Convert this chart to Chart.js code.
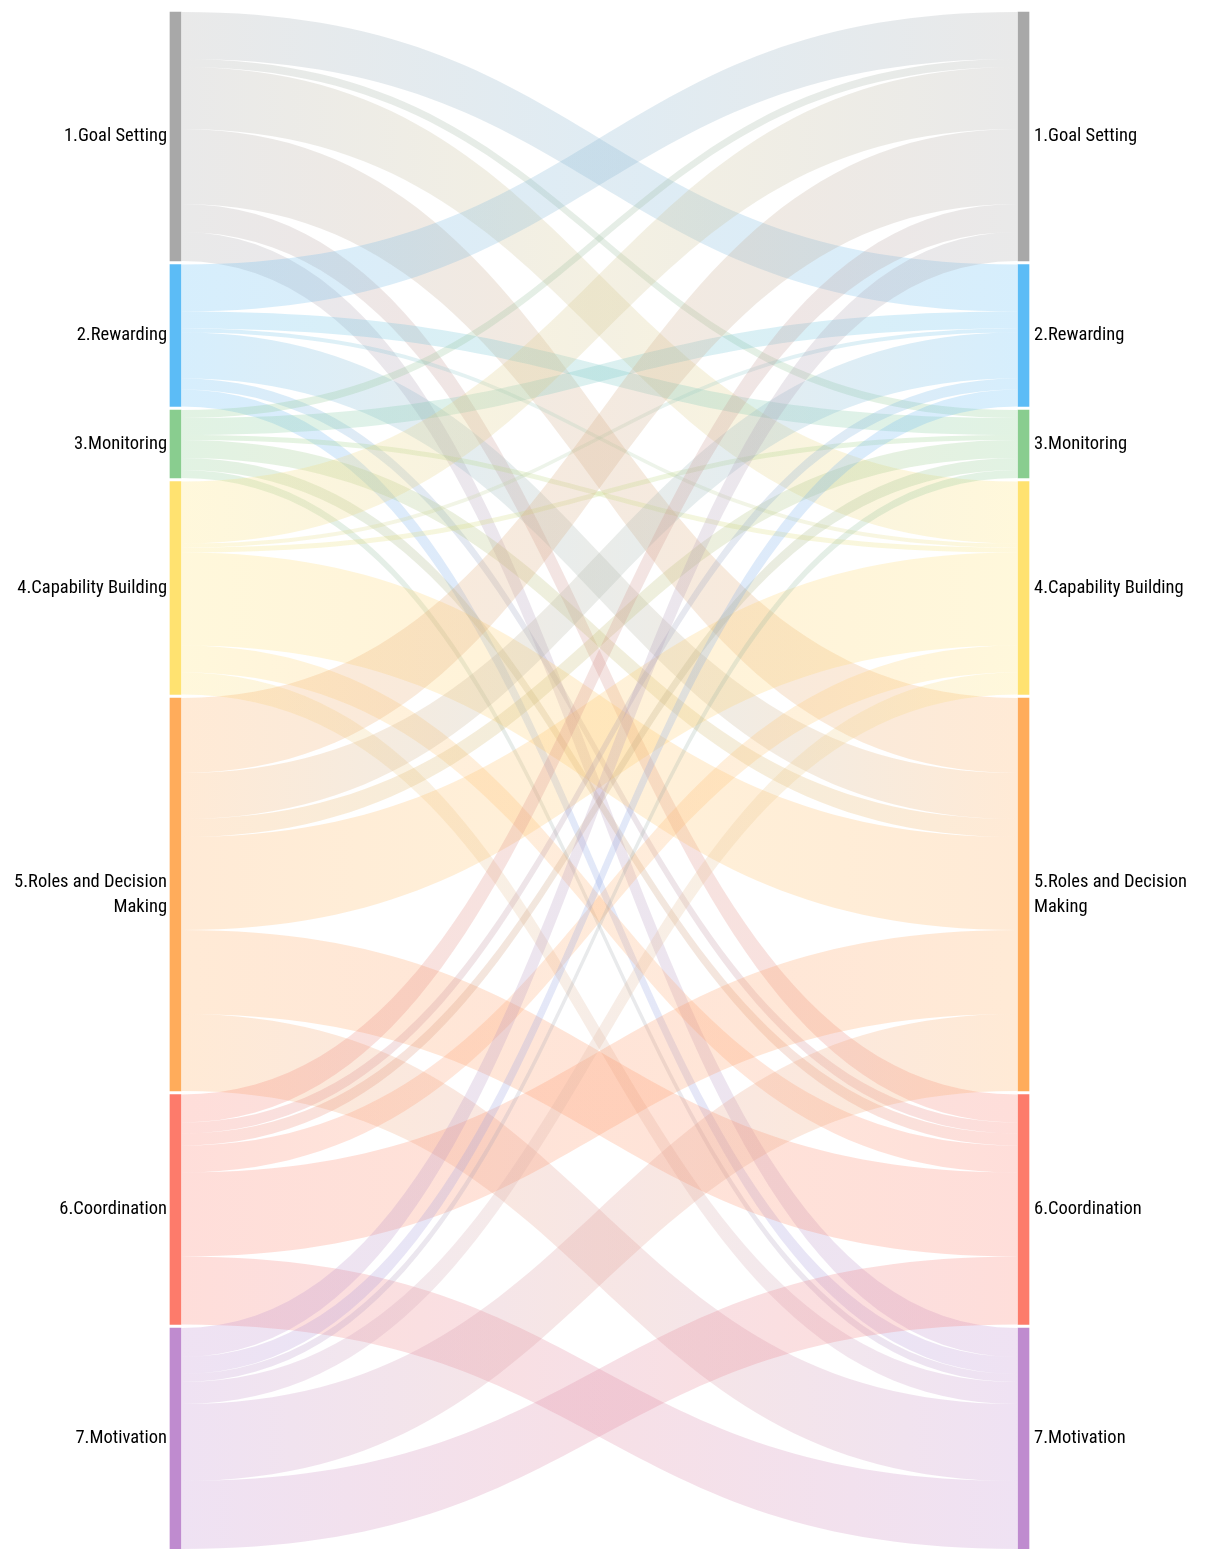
<!DOCTYPE html>
<html>
<head>
<meta charset="utf-8">
<script src="https://cdn.jsdelivr.net/npm/chart.js@4/dist/chart.umd.min.js"></script>
<style>
  html, body { margin: 0; padding: 0; background: #fff; }
  #wrap { width: 1205px; height: 1549px; }
</style>
</head>
<body>
<div id="wrap"><canvas id="sankey_chart"></canvas></div>
<script>
var labels = ['1.Goal Setting', '2.Rewarding', '3.Monitoring', '4.Capability Building',
  '5.Roles and Decision Making', '6.Coordination', '7.Motivation'];

// links from each left node to every right node (same order as labels)
var goalSetting        = [0, 47, 8, 62, 75, 28, 29];
var rewarding          = [47, 0, 17, 4, 46, 11, 17];
var monitoring         = [8, 17, 0, 5, 18, 12, 8];
var capabilityBuilding = [62, 4, 5, 0, 93, 27, 22];
var rolesDecision      = [75, 46, 18, 93, 0, 84, 77];
var coordination       = [28, 11, 12, 27, 84, 0, 68];
var motivation         = [29, 17, 8, 22, 77, 68, 0];

var links = [goalSetting, rewarding, monitoring, capabilityBuilding, rolesDecision, coordination, motivation];

var colours = ['#a8a8a8', '#5cbcf6', '#89cd8f', '#ffe270', '#ffac5b', '#fd7b6b', '#bf8bcf'];
var gap = 3.5;
var n = labels.length;

// node extents on both sides
var outTotals = links.map(function (row) { return row.reduce(function (a, b) { return a + b; }, 0); });
var inTotals = labels.map(function (_, j) { return links.reduce(function (a, row) { return a + row[j]; }, 0); });

function stack(totals) {
  var res = [], pos = 0;
  for (var i = 0; i < totals.length; i++) {
    res.push([pos, pos + totals[i]]);
    pos += totals[i] + gap;
  }
  return res;
}
var leftNodes = stack(outTotals);
var rightNodes = stack(inTotals);
var yMax = Math.max(leftNodes[n - 1][1], rightNodes[n - 1][1]);

var nodeData = [];
for (var i = 0; i < n; i++) nodeData.push({x: 0, y: leftNodes[i]});
for (i = 0; i < n; i++) nodeData.push({x: 1, y: rightNodes[i]});

function alpha(hex, a) {
  var r = parseInt(hex.substr(1, 2), 16), g = parseInt(hex.substr(3, 2), 16), b = parseInt(hex.substr(5, 2), 16);
  return 'rgba(' + r + ',' + g + ',' + b + ',' + a + ')';
}

var sankeyLinks = {
  id: 'sankeyLinks',
  beforeDatasetsDraw: function (chart) {
    var ctx = chart.ctx;
    var ys = chart.scales.y;
    var bars = chart.getDatasetMeta(0).data;
    var x0 = bars[0].x + bars[0].width / 2 + 1;
    var x1 = bars[n].x - bars[n].width / 2 - 1;
    var xm = (x0 + x1) / 2;
    var outPos = leftNodes.map(function (r) { return r[0]; });
    // incoming offsets at each right node, ordered by source
    var inStart = [];
    for (var j = 0; j < n; j++) {
      var p = rightNodes[j][0];
      inStart.push([]);
      for (var i = 0; i < n; i++) { inStart[j].push(p); p += links[i][j]; }
    }
    ctx.save();
    for (i = 0; i < n; i++) {
      for (j = 0; j < n; j++) {
        var v = links[i][j];
        if (!v) continue;
        var a0 = ys.getPixelForValue(outPos[i]), a1 = ys.getPixelForValue(outPos[i] + v);
        var b0 = ys.getPixelForValue(inStart[j][i]), b1 = ys.getPixelForValue(inStart[j][i] + v);
        outPos[i] += v;
        var grad = ctx.createLinearGradient(x0, 0, x1, 0);
        grad.addColorStop(0, alpha(colours[i], 0.25));
        grad.addColorStop(1, alpha(colours[j], 0.25));
        ctx.fillStyle = grad;
        ctx.beginPath();
        ctx.moveTo(x0, a0);
        ctx.bezierCurveTo(xm, a0, xm, b0, x1, b0);
        ctx.lineTo(x1, b1);
        ctx.bezierCurveTo(xm, b1, xm, a1, x0, a1);
        ctx.closePath();
        ctx.fill();
      }
    }
    ctx.restore();
  },
  afterDatasetsDraw: function (chart) {
    var ctx = chart.ctx;
    var bars = chart.getDatasetMeta(0).data;
    ctx.save();
    ctx.font = '18.5px "Liberation Sans Narrow", "Roboto Condensed", "Liberation Sans", sans-serif';
    ctx.fillStyle = '#000';
    ctx.textBaseline = 'middle';
    for (var k = 0; k < bars.length; k++) {
      var b = bars[k];
      var left = k < n;
      var text = labels[k % n];
      // wrap long labels onto two lines
      var lines = [text];
      if (ctx.measureText(text).width > 162) {
        var words = text.split(' '), cur = '';
        lines = [];
        words.forEach(function (w) {
          var t = cur ? cur + ' ' + w : w;
          if (ctx.measureText(t).width > 162 && cur) { lines.push(cur); cur = w; } else cur = t;
        });
        lines.push(cur);
      }
      var cy = (b.y + b.base) / 2;
      ctx.textAlign = left ? 'right' : 'left';
      var tx = left ? b.x - b.width / 2 - 3 : b.x + b.width / 2 + 5;
      for (var l = 0; l < lines.length; l++) {
        ctx.fillText(lines[l], tx, cy + (l - (lines.length - 1) / 2) * 25);
      }
    }
    ctx.restore();
  }
};

var myChart = new Chart(document.getElementById('sankey_chart').getContext('2d'), {
  type: 'bar',
  data: {
    datasets: [{
      data: nodeData,
      backgroundColor: colours.concat(colours),
      barThickness: 11,
      borderWidth: 0,
      clip: false
    }]
  },
  options: {
    responsive: true,
    maintainAspectRatio: false,
    animation: false,
    events: [],
    layout: { padding: { left: 175.5, right: 181.5, top: 12, bottom: 0 } },
    scales: {
      x: { type: 'linear', min: 0, max: 1, offset: false, display: false },
      y: { type: 'linear', min: 0, max: yMax, reverse: true, display: false }
    },
    plugins: { legend: { display: false }, tooltip: { enabled: false } }
  },
  plugins: [sankeyLinks]
});
</script>
</body>
</html>
